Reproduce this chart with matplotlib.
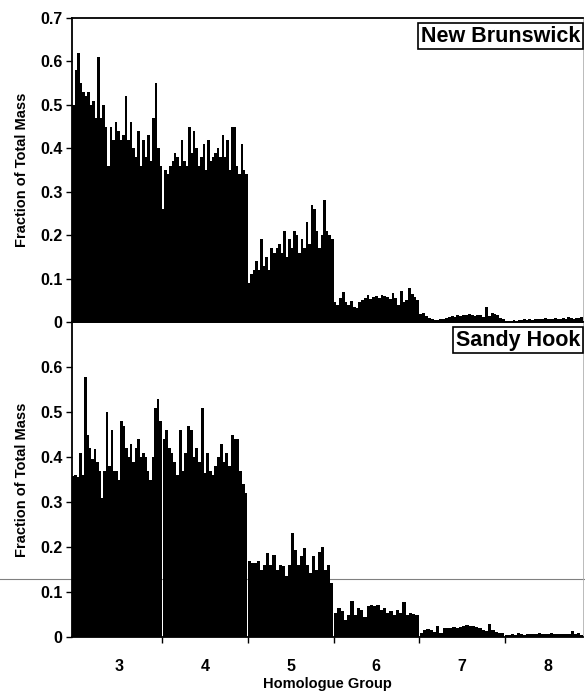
import numpy as np
import matplotlib
matplotlib.use('Agg')
import matplotlib.pyplot as plt
from matplotlib.lines import Line2D

plt.rcParams['font.family'] = ['Liberation Sans', 'DejaVu Sans']
plt.rcParams['font.weight'] = 'bold'

groups = [3, 4, 5, 6, 7, 8]

# New Brunswick, one list per homologue group (samples in order)
nb3 = [0.50, 0.58, 0.62, 0.55, 0.53, 0.52, 0.53, 0.50, 0.51, 0.47, 0.61, 0.47,
       0.50, 0.45, 0.36, 0.45, 0.42, 0.46, 0.44, 0.42, 0.43, 0.52, 0.42, 0.46,
       0.40, 0.38, 0.44, 0.36, 0.42, 0.38, 0.43, 0.37, 0.47, 0.55, 0.40, 0.36]
nb4 = [0.26, 0.35, 0.34, 0.36, 0.37, 0.39, 0.38, 0.36, 0.42, 0.37, 0.36, 0.45,
       0.39, 0.44, 0.40, 0.36, 0.38, 0.41, 0.35, 0.42, 0.37, 0.38, 0.39, 0.40,
       0.38, 0.43, 0.38, 0.42, 0.35, 0.45, 0.45, 0.36, 0.34, 0.41, 0.35, 0.34]
nb5 = [0.09, 0.11, 0.12, 0.14, 0.12, 0.19, 0.13, 0.15, 0.12, 0.17, 0.16, 0.17,
       0.18, 0.16, 0.21, 0.15, 0.19, 0.17, 0.21, 0.20, 0.16, 0.19, 0.17, 0.23,
       0.18, 0.27, 0.26, 0.21, 0.17, 0.20, 0.28, 0.21, 0.20, 0.19]
nb6 = [0.045, 0.040, 0.055, 0.070, 0.047, 0.040, 0.048, 0.035, 0.033, 0.045,
       0.050, 0.055, 0.063, 0.053, 0.057, 0.059, 0.055, 0.063, 0.061, 0.057,
       0.053, 0.067, 0.055, 0.040, 0.071, 0.045, 0.050, 0.078, 0.065, 0.057, 0.050]
nb7 = [0.018, 0.020, 0.014, 0.009, 0.006, 0.005, 0.004, 0.006, 0.008, 0.010,
       0.011, 0.013, 0.012, 0.015, 0.014, 0.016, 0.015, 0.018, 0.016, 0.014,
       0.017, 0.015, 0.012, 0.034, 0.014, 0.020, 0.018, 0.016, 0.009, 0.006]
nb8 = [0.003, 0.002, 0.003, 0.004, 0.003, 0.005, 0.004, 0.006, 0.005, 0.007,
       0.005, 0.007, 0.006, 0.008, 0.007, 0.009, 0.007, 0.008, 0.007, 0.009,
       0.008, 0.007, 0.009, 0.008, 0.011, 0.009, 0.008, 0.010, 0.009, 0.011]

# Sandy Hook
sh3 = [0.358, 0.36, 0.355, 0.41, 0.36, 0.577, 0.45, 0.42, 0.395, 0.417, 0.39,
       0.37, 0.31, 0.37, 0.50, 0.38, 0.46, 0.37, 0.37, 0.35, 0.48, 0.47, 0.42,
       0.40, 0.43, 0.39, 0.42, 0.44, 0.40, 0.41, 0.40, 0.37, 0.35, 0.40, 0.51,
       0.53, 0.48]
sh4 = [0.44, 0.46, 0.42, 0.41, 0.39, 0.36, 0.46, 0.37, 0.41, 0.47, 0.46, 0.40,
       0.42, 0.39, 0.51, 0.365, 0.41, 0.37, 0.36, 0.38, 0.40, 0.43, 0.39, 0.41,
       0.38, 0.45, 0.44, 0.44, 0.37, 0.34, 0.32]
sh5 = [0.168, 0.165, 0.164, 0.17, 0.15, 0.16, 0.187, 0.16, 0.183, 0.15, 0.16,
       0.157, 0.135, 0.16, 0.231, 0.194, 0.16, 0.18, 0.198, 0.16, 0.142, 0.18,
       0.15, 0.19, 0.20, 0.15, 0.16, 0.12]
sh6 = [0.053, 0.064, 0.058, 0.038, 0.05, 0.079, 0.05, 0.064, 0.06, 0.045,
       0.068, 0.071, 0.068, 0.071, 0.06, 0.064, 0.053, 0.057, 0.05, 0.06,
       0.053, 0.077, 0.05, 0.053, 0.051, 0.049]
sh7 = [0.010, 0.015, 0.017, 0.015, 0.012, 0.025, 0.010, 0.019, 0.021, 0.019,
       0.022, 0.021, 0.022, 0.024, 0.027, 0.024, 0.025, 0.022, 0.021, 0.016,
       0.014, 0.029, 0.016, 0.012, 0.010, 0.009]
sh8 = [0.005, 0.005, 0.006, 0.005, 0.010, 0.006, 0.005, 0.007, 0.006, 0.007,
       0.006, 0.008, 0.007, 0.006, 0.007, 0.008, 0.007, 0.006, 0.007, 0.006,
       0.007, 0.006, 0.013, 0.007, 0.009, 0.005]

new_brunswick = [nb3, nb4, nb5, nb6, nb7, nb8]
sandy_hook = [sh3, sh4, sh5, sh6, sh7, sh8]

ytick_vals = [0, 0.1, 0.2, 0.3, 0.4, 0.5, 0.6, 0.7]
ytick_labels = ['0', '0.1', '0.2', '0.3', '0.4', '0.5', '0.6', '0.7']

XMIN, XMAX = 2.45, 8.41


def draw_panel(ax, series, title, gap=0.0):
    for i, (g, vals) in enumerate(zip(groups, series)):
        n = len(vals)
        lo = XMIN if i == 0 else g - 0.5 + gap
        hi = XMAX if i == len(groups) - 1 else g + 0.5 - gap
        w = (hi - lo) / n
        x = lo + w * np.arange(n)
        ax.bar(x, vals, width=w, align='edge', color='black',
               linewidth=0, antialiased=False)
    ax.set_xlim(XMIN, XMAX)
    ax.set_ylim(0, 0.7)
    ax.set_facecolor('none')
    ax.set_yticks(ytick_vals)
    ax.set_yticklabels(ytick_labels)
    ax.tick_params(axis='y', direction='out', length=4, width=1,
                   labelsize=11.5, pad=3)
    ax.set_ylabel('Fraction of Total Mass', fontsize=10.5, fontweight='bold',
                  labelpad=8)
    for s in ['left', 'top', 'bottom']:
        ax.spines[s].set_linewidth(1.3)
    ax.spines['right'].set_color('#b0b0b0')
    ax.spines['right'].set_linewidth(0.6)
    ax.text(0.995, 0.975, title, transform=ax.transAxes, ha='right', va='top',
            fontsize=15.5, fontweight='bold',
            bbox=dict(boxstyle='square,pad=0.12', fc='white', ec='black', lw=1.2))


fig = plt.figure(figsize=(5.85, 6.96), dpi=100)
ax1 = fig.add_axes([72 / 585, 1 - 322 / 696, 511 / 585, 304 / 696])
ax2 = fig.add_axes([72 / 585, 1 - 637 / 696, 511 / 585, 315 / 696])

draw_panel(ax1, new_brunswick, 'New Brunswick')
ax1.set_xticks([])

draw_panel(ax2, sandy_hook, 'Sandy Hook', gap=0.006)
ax2.set_yticks(ytick_vals[:-1])
ax2.set_yticklabels(ytick_labels[:-1])
ax2.set_xticks([3.5, 4.5, 5.5, 6.5, 7.5])
ax2.set_xticklabels([])
ax2.set_xticks(groups, minor=True)
ax2.set_xticklabels([str(g) for g in groups], minor=True)
ax2.tick_params(axis='x', which='major', direction='out', length=4, width=1)
ax2.tick_params(axis='x', which='minor', length=0, labelsize=11.5, pad=16)
ax2.set_xlabel('Homologue Group', fontsize=10.5, fontweight='bold', labelpad=2)

# faint horizontal scan line crossing the page
fig.add_artist(Line2D([0, 1], [1 - 579 / 696] * 2, transform=fig.transFigure,
                      color='#808080', lw=0.8, zorder=-1))

fig.savefig('out.png', dpi=100, facecolor='white')
